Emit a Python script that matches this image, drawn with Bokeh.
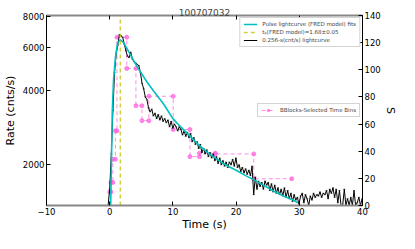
from bokeh.plotting import figure
from bokeh.models import (Range1d, LogScale, LogAxis, LinearAxis, FixedTicker,
                          PrintfTickFormatter, Legend, LegendItem, CustomLabelingPolicy)
from bokeh.embed import file_html
from bokeh.resources import INLINE
import numpy as np

TITLE = "100707032"
X_TICKS = [-10, 0, 10, 20, 30, 40]
X_LABELS = {-10: "\u221210", 0: "0", 10: "10", 20: "20", 30: "30", 40: "40"}
S_TICKS = [0, 20, 40, 60, 80, 100, 120, 140]
RATE_TICKS = [2000, 4000, 6000, 8000]

LC_T0 = -0.512
LC_BIN = 0.256
LC_S = [0, 0, 12, 38, 70, 98, 112, 118, 126, 125, 124, 119, 114, 110, 109, 113,
        108, 106, 105, 104, 103, 98, 90, 86, 80, 78, 72, 69, 71, 66, 68, 64,
        67, 63, 66, 62, 64, 61, 63, 58, 62, 57, 60, 58, 55, 58, 56, 52,
        55, 51, 54, 50, 53, 47, 50, 45, 47, 42, 45, 39, 42, 38, 41, 36,
        39, 35, 38, 33, 36, 31, 35, 30, 33, 29, 32, 28, 32, 30, 34, 29,
        35, 28, 30, 25, 28, 24, 27, 23, 26, 22, 29, 8, 21, 12, 18, 14,
        17, 12, 18, 15, 17, 11, 16, 10, 15, 9, 13, 8, 12, 7, 13, 6,
        11, 5, 9, 3, 8, 4, 6, 1, 7, 9, 2, 8, 5, 0, 7, 4,
        9, 6, 8, 7, 10, 6, 9, 8, 11, 5, 12, 9, 13, 6, 12, 2,
        11, 0, 0, 12, 0, 5, 0, 6, 0, 11, 0, 2, 6, 0, 5]

FIT_T = [0.15, 0.25, 0.4, 0.6, 0.9, 1.25, 1.7, 2.2, 2.8, 3.4, 4.5, 5.9, 7.0, 8.5,
         10.0, 11.0, 12.5, 14.0, 15.5, 17.0, 18.5, 20.0, 21.5, 23.0, 24.5, 26.0,
         27.5, 29.0, 29.8]
FIT_S = [0, 25, 68, 92, 109, 120, 122, 120, 115, 110, 101, 91, 84, 75,
         64, 59, 52, 45, 39, 34, 29.5, 26, 22, 18.5, 14.5, 10.5,
         7, 4, 2]

TP = 1.68

BB_EDGES = [0.0, 0.2, 0.5, 0.9, 1.15, 2.7, 4.15, 5.1, 6.2, 10.05, 12.7, 14.2, 16.7, 22.8, 28.8]
BB_S = [10, 17, 34, 55, 124, 101, 73.5, 62.5, 80.5, 56, 36, 38.5, 38, 19.7]

FONT = "DejaVu Sans"

p = figure(width=399, height=233, output_backend="svg", toolbar_location=None,
           x_range=Range1d(-10, 40), y_range=Range1d(0, 140),
           y_axis_location="right", x_axis_location="below",
           min_border_left=44, min_border_right=30, min_border_top=15,
           min_border_bottom=24, title=TITLE)
p.title.text_font = FONT
p.title.text_font_size = "9px"
p.title.text_font_style = "normal"
p.title.align = "center"
p.title.standoff = 0
p.outline_line_color = None
p.xgrid.visible = False
p.ygrid.visible = False

p.extra_y_ranges = {"rate": Range1d(1366, 8071)}
p.extra_y_scales = {"rate": LogScale()}

def style_axis(ax, lc="black", lw=1):
    ax.axis_line_color = lc
    ax.axis_line_width = lw
    ax.major_tick_in = 4
    ax.major_tick_out = 0
    ax.major_tick_line_color = "black"
    ax.minor_tick_in = 0
    ax.minor_tick_out = 0
    ax.major_label_text_font = FONT
    ax.major_label_text_font_size = "8.5px"
    ax.major_label_text_color = "black"
    ax.major_label_standoff = 2
    ax.axis_label_text_font = FONT
    ax.axis_label_text_font_size = "11px"
    ax.axis_label_text_font_style = "normal"
    ax.axis_label_text_color = "black"
    ax.axis_label_standoff = 0

xa = p.xaxis[0]
xa.ticker = FixedTicker(ticks=X_TICKS)
xa.major_label_overrides = X_LABELS
xa.axis_label = "Time (s)"
style_axis(xa, "#888888", 2)

top = LinearAxis(ticker=FixedTicker(ticks=X_TICKS))
style_axis(top, "#888888", 2)
top.major_label_policy = CustomLabelingPolicy(code="return new Set()")
top.major_label_text_font_size = "0px"
top.major_label_standoff = 0
p.add_layout(top, "above")

ya = p.yaxis[0]
ya.ticker = FixedTicker(ticks=S_TICKS)
ya.axis_label = "S"
style_axis(ya)

la = LogAxis(y_range_name="rate", ticker=FixedTicker(ticks=RATE_TICKS),
             formatter=PrintfTickFormatter(format="%d"), axis_label="Rate (cnts/s)")
style_axis(la)
la.axis_label_standoff = 3
p.add_layout(la, "left")

lc_t = LC_T0 + LC_BIN * np.arange(len(LC_S))

bb_x, bb_y = [], []
for i, h in enumerate(BB_S):
    bb_x += [BB_EDGES[i], BB_EDGES[i + 1]]
    bb_y += [h, h]

pink = "#ff66dd"
bb_line = p.line(bb_x, bb_y, line_color=pink, line_width=1, line_dash="4 3", line_alpha=0.75)
bb_pts = p.scatter(bb_x, bb_y, size=4, fill_color=pink, line_color=pink, alpha=0.75)

lc_line = p.line(lc_t, LC_S, line_color="black", line_width=1)
lc_pts = p.scatter(lc_t, LC_S, marker="dash", size=2, line_color="black", line_width=0.6)

fit_line = p.line(FIT_T, FIT_S, line_color="#00bfbf", line_width=1.6)
tp_line = p.line([TP, TP], [0, 140], line_color="#c8c820", line_width=1.5,
                 line_dash="4 3", line_alpha=0.85)

leg1 = Legend(items=[
    LegendItem(label="Pulse lightcurve (FRED model) fits", renderers=[fit_line]),
    LegendItem(label="t\u209a(FRED model)=1.68\u00b10.05", renderers=[tp_line]),
    LegendItem(label="0.256-s(cnt/s) lightcurve", renderers=[lc_line, lc_pts]),
], location="top_right")
leg2 = Legend(items=[LegendItem(label="BBlocks-Selected Time Bins", renderers=[bb_line, bb_pts])],
              location="right")
for lg in (leg1, leg2):
    lg.label_text_font = FONT
    lg.label_text_font_size = "5.5px"
    lg.glyph_width = 14
    lg.glyph_height = 6
    lg.label_height = 6
    lg.label_standoff = 5
    lg.spacing = 2
    lg.padding = 3
    lg.margin = 2
    lg.border_line_color = "#aaaaaa"
    lg.border_line_width = 0.8
    lg.background_fill_alpha = 1
    p.add_layout(lg)

open("out.html", "w").write(file_html(p, INLINE))
